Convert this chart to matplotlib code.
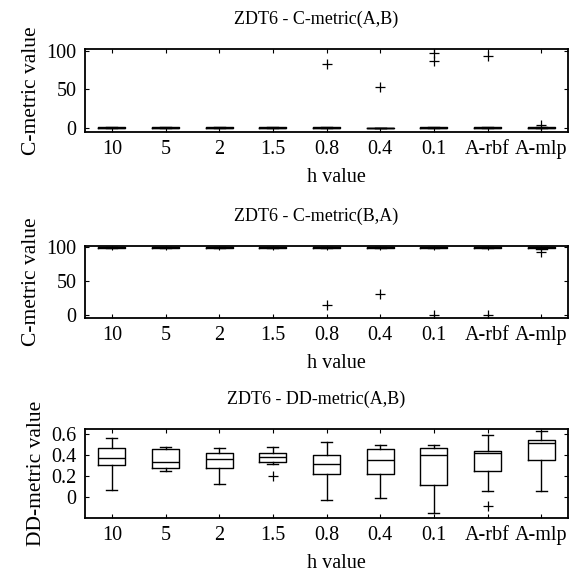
import matplotlib
matplotlib.use("Agg")
import matplotlib.pyplot as plt

plt.rcParams['font.family'] = ['Liberation Serif', 'DejaVu Serif']
plt.rcParams['font.size'] = 15

categories = ['10', '5', '2', '1.5', '0.8', '0.4', '0.1', 'A-rbf', 'A-mlp']

# C-metric(A,B)
ab_whislo = [0, 0, 0, 0, 0, 0, 0, 0, 0]
ab_q1 = [0, 0, 0, 0, 0, 0, 0, 0, 0]
ab_med = [0, 0, 0, 0, 0, 0, 0, 0, 0]
ab_q3 = [1.5, 1.5, 1.5, 1.5, 1.5, 0, 1.5, 1.5, 1.5]
ab_whishi = [1.5, 1.5, 1.5, 1.5, 1.5, 0, 1.5, 1.5, 1.5]
ab_fliers = [[], [], [], [], [83], [53], [97, 86], [93], [4]]

# C-metric(B,A)
ba_whislo = [98.5, 98.5, 98.5, 98.5, 98.5, 98.5, 98.5, 98.5, 97]
ba_q1 = [98.5, 98.5, 98.5, 98.5, 98.5, 98.5, 98.5, 98.5, 98.5]
ba_med = [100, 100, 100, 100, 100, 100, 100, 100, 100]
ba_q3 = [100, 100, 100, 100, 100, 100, 100, 100, 100]
ba_whishi = [100, 100, 100, 100, 100, 100, 100, 100, 100]
ba_fliers = [[], [], [], [], [14], [31], [0], [0], [92]]

# DD-metric(A,B)
dd_whislo = [0.065, 0.25, 0.12, 0.315, -0.03, -0.01, -0.155, 0.055, 0.055]
dd_q1 = [0.30, 0.276, 0.276, 0.334, 0.218, 0.218, 0.11, 0.25, 0.347]
dd_med = [0.367, 0.334, 0.357, 0.383, 0.315, 0.354, 0.40, 0.416, 0.51]
dd_q3 = [0.464, 0.455, 0.42, 0.42, 0.40, 0.455, 0.464, 0.432, 0.542]
dd_whishi = [0.56, 0.477, 0.464, 0.477, 0.526, 0.497, 0.497, 0.584, 0.627]
dd_fliers = [[], [], [], [0.195], [], [], [], [-0.088], []]


def make_stats(whislo, q1, med, q3, whishi, fliers):
    return [dict(whislo=a, q1=b, med=c, q3=d, whishi=e, fliers=f)
            for a, b, c, d, e, f in zip(whislo, q1, med, q3, whishi, fliers)]


fig = plt.figure(figsize=(5.79, 5.75), dpi=100)

W, H = 579, 575
left, right = 85, 568
panels = [
    (49, 132, "ZDT6 - C-metric(A,B)", "C-metric value",
     make_stats(ab_whislo, ab_q1, ab_med, ab_q3, ab_whishi, ab_fliers),
     (-5, 102), [0, 50, 100], ['0', '50', '100']),
    (245.5, 318, "ZDT6 - C-metric(B,A)", "C-metric value",
     make_stats(ba_whislo, ba_q1, ba_med, ba_q3, ba_whishi, ba_fliers),
     (-5, 102), [0, 50, 100], ['0', '50', '100']),
    (429, 518, "ZDT6 - DD-metric(A,B)", "DD-metric value",
     make_stats(dd_whislo, dd_q1, dd_med, dd_q3, dd_whishi, dd_fliers),
     (-0.2, 0.645), [0, 0.2, 0.4, 0.6], ['0', '0.2', '0.4', '0.6']),
]

lp = dict(color='black', linewidth=1.0)
for top, bottom, title, ylabel, stats, ylim, yt, ytl in panels:
    ax = fig.add_axes([left / W, (H - bottom) / H, (right - left) / W, (bottom - top) / H])
    ax.bxp(stats, positions=range(1, 10), widths=0.5, showfliers=True,
           boxprops=lp, whiskerprops=lp, capprops=lp, medianprops=lp,
           capwidths=0.2,
           flierprops=dict(marker='+', markeredgecolor='black', markersize=7,
                           markeredgewidth=0.9, linestyle='none'))
    ax.set_xlim(0.5, 9.5)
    ax.set_ylim(*ylim)
    ax.set_xticks(range(1, 10))
    ax.set_xticklabels(categories)
    ax.set_yticks(yt)
    ax.set_yticklabels(ytl)
    ax.tick_params(direction='in', length=3, width=0.8, top=True, right=True,
                   labelsize=14.5)
    ax.tick_params(axis='x', pad=6)
    ax.tick_params(axis='y', pad=6)
    for s in ax.spines.values():
        s.set_linewidth(1.3)
    ax.set_title(title, fontsize=13, pad=18)
    ax.title.set_x(0.478)
    ax.set_xlabel("h value", fontsize=14.5, labelpad=6)
    ax.xaxis.label.set_x(0.52)
    ax.set_ylabel(ylabel, fontsize=15.5, labelpad=4)

fig.savefig("out.png", dpi=100)
